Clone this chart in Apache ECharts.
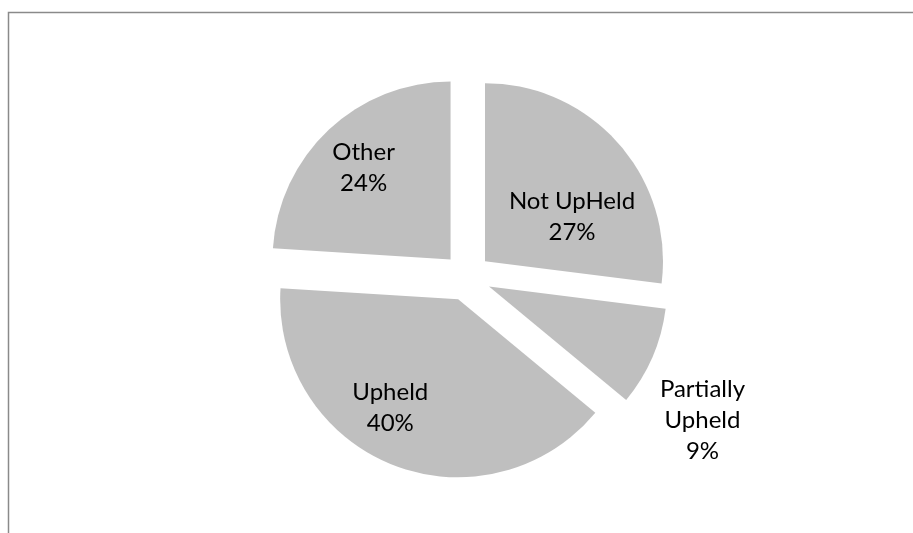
<!DOCTYPE html>
<html>
<head>
<meta charset="utf-8">
<script src="https://cdn.jsdelivr.net/npm/echarts@6/dist/echarts.min.js"></script>
<style>
  html, body { margin: 0; padding: 0; background: #ffffff; }
  #chart { width: 913px; height: 533px; }
</style>
</head>
<body>
<div id="chart"></div>
<script>
// ---- data ----
var categories = ['Not UpHeld', 'Partially Upheld', 'Upheld', 'Other'];
var labelNames = ['Not UpHeld', 'Partially\nUpheld', 'Upheld', 'Other'];
var values = [27, 9, 40, 24];

// ---- style (label nudges, px) ----
var labelNudge = [[18, 16], [129, 97], [-34, 23], [-24, -25]];

var chart = echarts.init(document.getElementById('chart'), null, { renderer: 'canvas' });

var seriesData = categories.map(function (c, i) {
  return { name: c, value: values[i], selected: true };
});

chart.setOption({
  animation: false,
  backgroundColor: '#ffffff',
  graphic: [{
    type: 'rect',
    shape: { x: 8.5, y: 12.5, width: 1000, height: 1000 },
    style: { fill: 'none', stroke: '#8a8a8a', lineWidth: 1.5 },
    silent: true
  }],
  series: [{
    type: 'pie',
    center: [467, 277],
    radius: 178,
    startAngle: 90,
    clockwise: true,
    selectedMode: 'multiple',
    selectedOffset: 24,
    avoidLabelOverlap: false,
    itemStyle: { color: '#bfbfbf', borderWidth: 0 },
    select: { itemStyle: { color: '#bfbfbf', borderWidth: 0 }, label: { color: '#000' } },
    emphasis: { disabled: true },
    label: {
      show: true,
      position: 'inside',
      fontFamily: 'Lato',
      fontSize: 24,
      lineHeight: 31,
      color: '#000000',
      align: 'center',
      formatter: function (p) {
        return labelNames[p.dataIndex] + '\n' + p.percent + '%';
      }
    },
    labelLine: { show: false },
    labelLayout: function (params) {
      var n = labelNudge[params.dataIndex];
      return { dx: n[0], dy: n[1] };
    },
    data: seriesData
  }]
});
</script>
</body>
</html>
